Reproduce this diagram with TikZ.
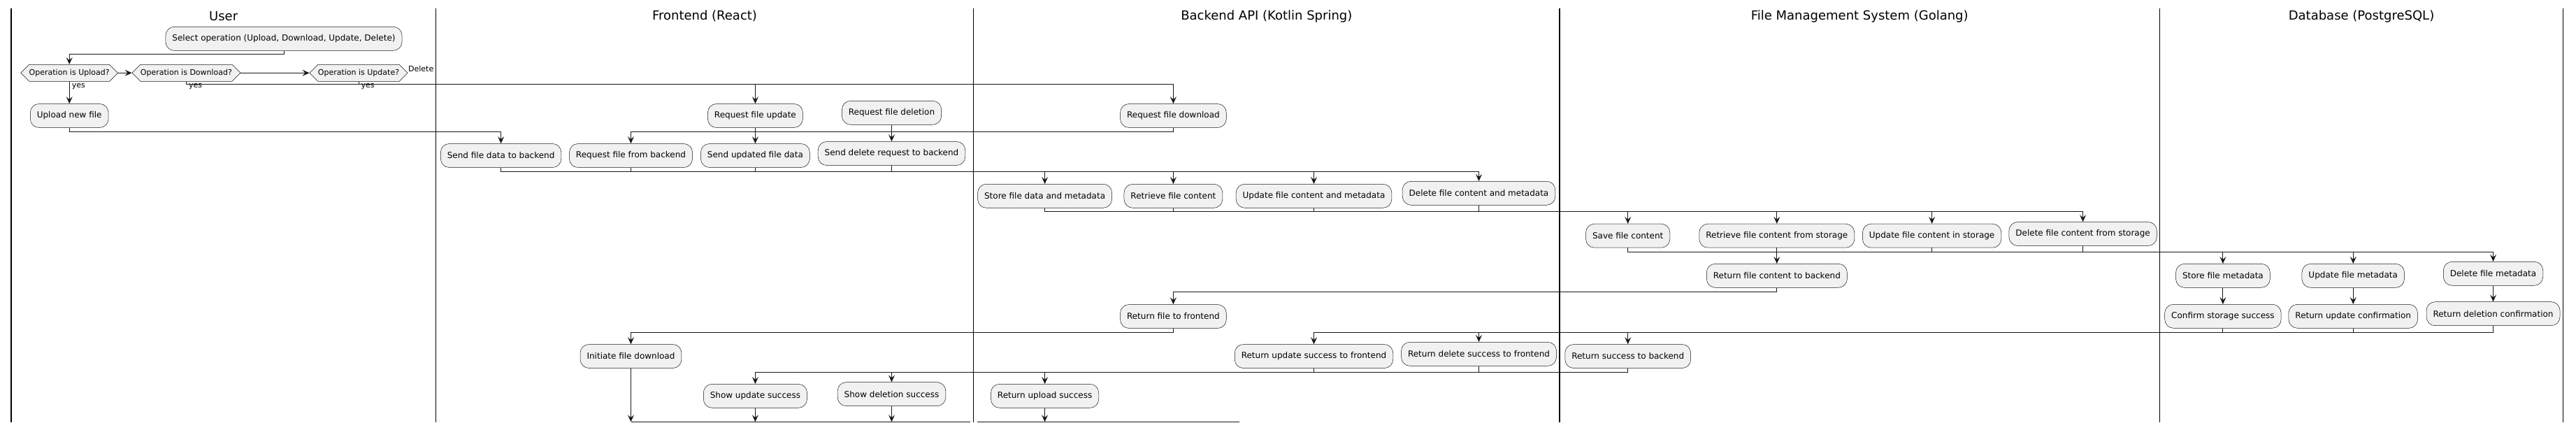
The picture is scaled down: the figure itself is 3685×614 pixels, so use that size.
\documentclass[tikz,border=0pt]{standalone}
\usepackage{fontspec}
\setmainfont{DejaVu Sans}
\usetikzlibrary{shapes}
\usetikzlibrary{arrows.meta}
\definecolor{actfill}{HTML}{F1F1F1}
\definecolor{actline}{HTML}{181818}

\begin{document}
\begin{tikzpicture}[x=1pt,y=-1pt]
\tikzset{action/.style = {shape=rectangle,rounded corners=12.5pt,draw=actline,line width=0.5pt,fill=actfill,minimum height=34pt,inner xsep=9.5pt,inner ysep=2pt,font=\fontsize{12}{14}\selectfont}}
\tikzset{choice/.style = {shape=signal,signal to=west and east,signal pointer angle=90,draw=actline,line width=0.5pt,fill=actfill,minimum height=24pt,inner xsep=0pt,inner ysep=2pt,font=\fontsize{11}{13}\selectfont}}
\tikzset{edge/.style = {->,> = {Stealth[length=10pt,width=9pt,inset=4pt]},line width=1pt,draw=actline}}
\tikzset{flow/.style = {line width=1pt,draw=actline}}
\tikzset{lane/.style = {line width=1.5pt,draw=black}}
\tikzset{lanetitle/.style = {font=\fontsize{18}{22}\selectfont}}
\tikzset{guard/.style = {font=\fontsize{11}{13}\selectfont,inner sep=0pt}}
\useasboundingbox (0,0) rectangle (3685,614);
% swimlanes
\draw[lane] (15.8,11.7) -- (15.8,604);
\draw[lane] (623.7,11.7) -- (623.7,604);
\draw[lane] (1392.6,11.7) -- (1392.6,604);
\draw[lane] (2231,11.7) -- (2231,604);
\draw[lane] (3089.4,11.7) -- (3089.4,604);
\draw[lane] (3666.5,11.7) -- (3666.5,604);
\node[lanetitle] (t_1) at (319.7,23.3) {User};
\node[lanetitle] (t_2) at (1008,23.3) {Frontend (React)};
\node[lanetitle] (t_3) at (1811.8,23.3) {Backend API (Kotlin Spring)};
\node[lanetitle] (t_4) at (2660.2,23.3) {File Management System (Golang)};
\node[lanetitle] (t_5) at (3378,23.3) {Database (PostgreSQL)};
% user
\node[action] (u_1) at (406,55.3) {Select operation (Upload, Download, Update, Delete)};
\node[choice] (u_d1) at (99.2,104.3) {Operation is Upload?};
\node[choice] (u_d2) at (266.5,104.3) {Operation is Download?};
\node[choice] (u_d3) at (513,104.3) {Operation is Update?};
\node[action] (u_2) at (99.2,165.5) {Upload new file};
% frontend
\node[action] (f_1) at (1080.4,165.5) {Request file update};
\node[action] (f_2) at (1275.5,161.3) {Request file deletion};
\node[action] (f_3) at (716.6,222.5) {Send file data to backend};
\node[action] (f_4) at (902.5,222.5) {Request file from backend};
\node[action] (f_5) at (1080.4,222.5) {Send updated file data};
\node[action] (f_6) at (1275.5,219.5) {Send delete request to backend};
\node[action] (f_7) at (902.5,509.5) {Initiate file download};
\node[action] (f_8) at (1080.4,566.3) {Show update success};
\node[action] (f_9) at (1275.5,563.7) {Show deletion success};
% backend
\node[action] (b_1) at (1678.4,165.5) {Request file download};
\node[action] (b_2) at (1494.6,280.3) {Store file data and metadata};
\node[action] (b_3) at (1678.4,280.3) {Retrieve file content};
\node[action] (b_4) at (1879.5,280.3) {Update file content and metadata};
\node[action] (b_5) at (2115.5,276.3) {Delete file content and metadata};
\node[action] (b_6) at (1678.4,452.5) {Return file to frontend};
\node[action] (b_7) at (1879.5,509.5) {Return update success to frontend};
\node[action] (b_8) at (2115.5,506.3) {Return delete success to frontend};
\node[action] (b_9) at (1494.6,566.3) {Return upload success};
% file management
\node[action] (g_1) at (2328.7,337.2) {Save file content};
\node[action] (g_2) at (2541.8,337.2) {Retrieve file content from storage};
\node[action] (g_3) at (2763.6,337.2) {Update file content in storage};
\node[action] (g_4) at (2979.6,334.5) {Delete file content from storage};
\node[action] (g_5) at (2541.8,394.3) {Return file content to backend};
\node[action] (g_6) at (2328.7,509.5) {Return success to backend};
% database
\node[action] (d_1) at (3179.9,394.3) {Store file metadata};
\node[action] (d_2) at (3179.9,452.3) {Confirm storage success};
\node[action] (d_3) at (3366.2,394.3) {Update file metadata};
\node[action] (d_4) at (3366.2,452.3) {Return update confirmation};
\node[action] (d_5) at (3566.5,391.3) {Delete file metadata};
\node[action] (d_6) at (3566.5,448.7) {Return deletion confirmation};
% guards
\node[guard,anchor=west] (l_1) at ([xshift=3.5pt,yshift=-7pt]u_d1.south) {yes};
\node[guard,anchor=west] (l_2) at ([xshift=3.5pt,yshift=-7pt]u_d2.south) {yes};
\node[guard,anchor=west] (l_3) at ([xshift=3.5pt,yshift=-7pt]u_d3.south) {yes};
\node[guard,anchor=west] (l_4) at ([xshift=0.5pt,yshift=6pt]u_d3.east) {Delete};
% merge bars
\coordinate (bar_1) at (0,77.3);
\coordinate (bar_2) at (0,120.3);
\coordinate (bar_3) at (0,188.3);
\coordinate (bar_4) at (0,245.3);
\coordinate (bar_5) at (0,302.3);
\coordinate (bar_6) at (0,360);
\coordinate (bar_7) at (0,417.3);
\coordinate (bar_8) at (0,475);
\coordinate (bar_9) at (0,532);
\coordinate (end_a) at (1387.8,603.3);
\coordinate (end_b) at (1397.7,603.3);
\coordinate (end_c) at (1772.6,603.3);
% flow
\draw[edge] (u_1.south) -- (u_1.south |- bar_1) -| (u_d1.north);
\draw[edge] (u_d1.east) -- (u_d2.west);
\draw[edge] (u_d2.east) -- (u_d3.west);
\draw[edge] (u_d1.south) -- (u_2.north);
\draw[edge] (u_d2.south) -- (u_d2.south |- bar_2) -| (b_1.north);
\draw[edge] (u_d3.south) -- (u_d3.south |- bar_2) -| (f_1.north);
\draw[edge] (u_2.south) -- (u_2.south |- bar_3) -| (f_3.north);
\draw[edge] (b_1.south) -- (b_1.south |- bar_3) -| (f_4.north);
\draw[edge] (f_1) -- (f_5);
\draw[edge] (f_2) -- (f_6);
\draw[edge] (f_3.south) -- (f_3.south |- bar_4) -| (b_2.north);
\draw[edge] (f_4.south) -- (f_4.south |- bar_4) -| (b_3.north);
\draw[edge] (f_5.south) -- (f_5.south |- bar_4) -| (b_4.north);
\draw[edge] (f_6.south) -- (f_6.south |- bar_4) -| (b_5.north);
\draw[edge] (b_2.south) -- (b_2.south |- bar_5) -| (g_1.north);
\draw[edge] (b_3.south) -- (b_3.south |- bar_5) -| (g_2.north);
\draw[edge] (b_4.south) -- (b_4.south |- bar_5) -| (g_3.north);
\draw[edge] (b_5.south) -- (b_5.south |- bar_5) -| (g_4.north);
\draw[edge] (g_1.south) -- (g_1.south |- bar_6) -| (d_1.north);
\draw[edge] (g_2) -- (g_5);
\draw[edge] (g_3.south) -- (g_3.south |- bar_6) -| (d_3.north);
\draw[edge] (g_4.south) -- (g_4.south |- bar_6) -| (d_5.north);
\draw[edge] (d_1) -- (d_2);
\draw[edge] (d_3) -- (d_4);
\draw[edge] (d_5) -- (d_6);
\draw[edge] (g_5.south) -- (g_5.south |- bar_7) -| (b_6.north);
\draw[edge] (d_2.south) -- (d_2.south |- bar_8) -| (g_6.north);
\draw[edge] (d_4.south) -- (d_4.south |- bar_8) -| (b_7.north);
\draw[edge] (d_6.south) -- (d_6.south |- bar_8) -| (b_8.north);
\draw[edge] (b_6.south) -- (b_6.south |- bar_8) -| (f_7.north);
\draw[edge] (g_6.south) -- (g_6.south |- bar_9) -| (b_9.north);
\draw[edge] (b_7.south) -- (b_7.south |- bar_9) -| (f_8.north);
\draw[edge] (b_8.south) -- (b_8.south |- bar_9) -| (f_9.north);
\draw[edge] (f_7.south) -- (f_7.south |- end_a);
\draw[edge] (f_8.south) -- (f_8.south |- end_a);
\draw[edge] (f_9.south) -- (f_9.south |- end_a);
\draw[edge] (b_9.south) -- (b_9.south |- end_b);
\draw[flow] (f_7.south |- end_a) -- (end_a);
\draw[flow] (end_b) -- (end_c);
\end{tikzpicture}
\end{document}
